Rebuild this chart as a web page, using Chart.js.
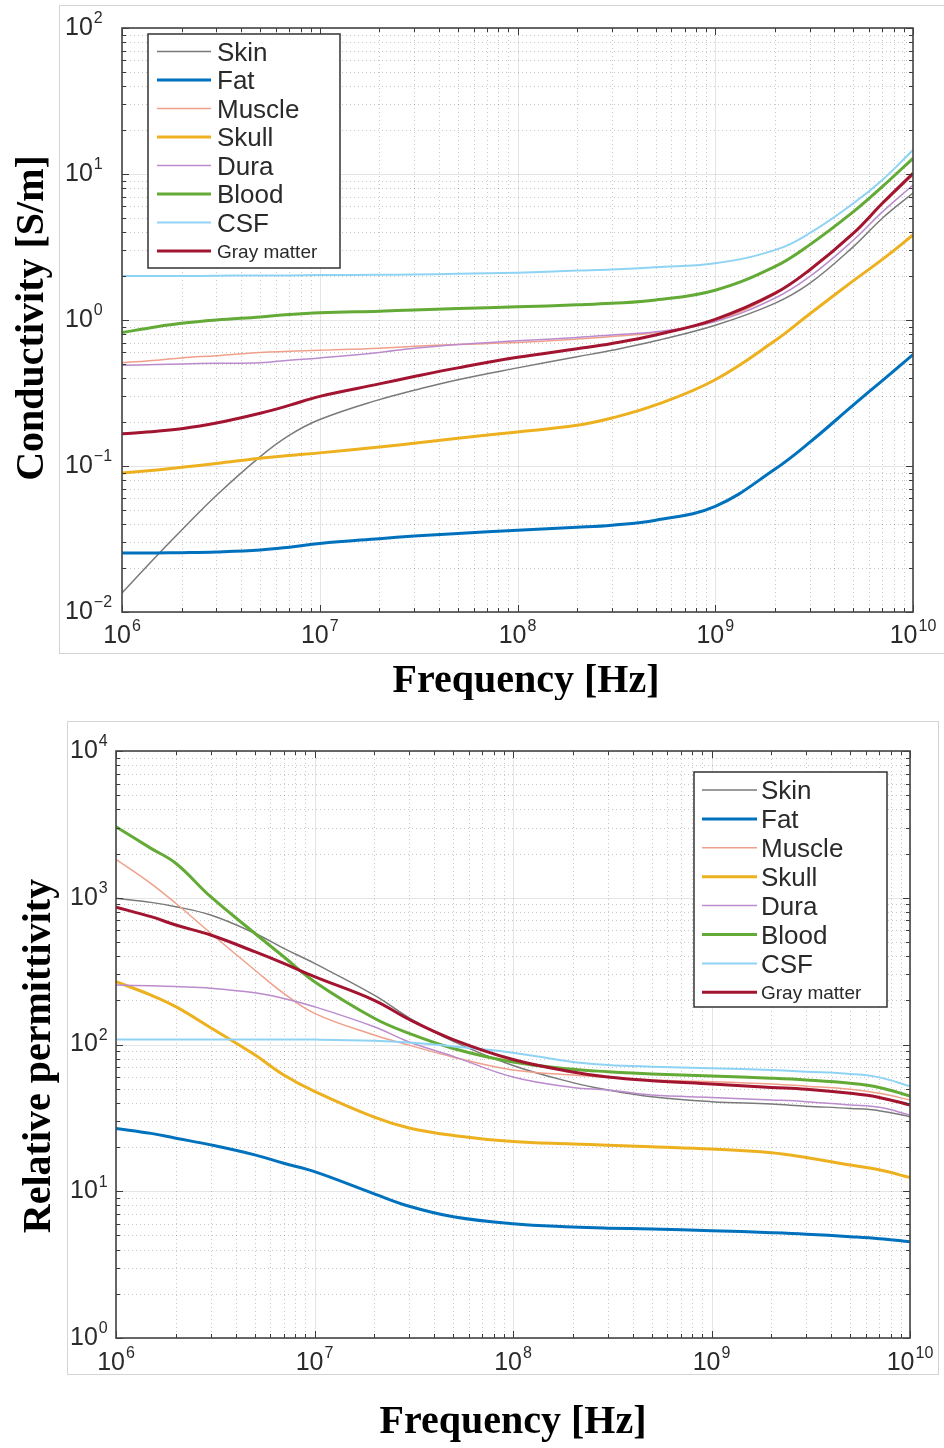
<!DOCTYPE html>
<html>
<head>
<meta charset="utf-8">
<script src="https://cdn.jsdelivr.net/npm/chart.js@4.4.0/dist/chart.umd.min.js"></script>
<style>
  body { margin: 0; background: #fff; }
  #wrap { position: relative; width: 944px; height: 1448px; }
  canvas { position: absolute; left: 0; }
  #cond-chart { top: 0; }
  #perm-chart { top: 700px; }
</style>
</head>
<body>
<div id="wrap">
  <canvas id="cond-chart" width="944" height="700"></canvas>
  <canvas id="perm-chart" width="944" height="748"></canvas>
</div>
<script>
var freqs = [1e6, 1.5e6, 2e6, 3e6, 5e6, 7e6, 1e7, 2e7, 3e7, 5e7,
             1e8, 2e8, 3e8, 5e8, 1e9, 2e9, 3e9, 5e9, 7e9, 1e10];

var tissues = ["Skin", "Fat", "Muscle", "Skull", "Dura", "Blood", "CSF", "Gray matter"];

// conductivity [S/m]
var condSkin   = [0.0135, 0.0243, 0.0363, 0.0628, 0.116, 0.162, 0.208, 0.285, 0.33, 0.39, 0.47, 0.56, 0.62, 0.72, 0.92, 1.30, 1.78, 3.18, 4.98, 7.4];
var condFat    = [0.0254, 0.0254, 0.0255, 0.0258, 0.0266, 0.0278, 0.0295, 0.0318, 0.0331, 0.0345, 0.0363, 0.038, 0.0393, 0.0425, 0.053, 0.095, 0.145, 0.262, 0.385, 0.58];
var condMuscle = [0.51, 0.53, 0.55, 0.57, 0.6, 0.61, 0.62, 0.64, 0.66, 0.68, 0.70, 0.74, 0.77, 0.82, 0.98, 1.5, 2.2, 3.9, 6.2, 9.8];
var condSkull  = [0.0895, 0.094, 0.098, 0.104, 0.113, 0.118, 0.123, 0.135, 0.143, 0.155, 0.171, 0.19, 0.213, 0.262, 0.39, 0.72, 1.1, 1.86, 2.6, 3.82];
var condDura   = [0.49, 0.495, 0.5, 0.505, 0.51, 0.53, 0.55, 0.6, 0.64, 0.68, 0.72, 0.76, 0.79, 0.83, 0.975, 1.41, 1.98, 3.53, 5.5, 8.4];
var condBlood  = [0.82, 0.9, 0.95, 1.0, 1.05, 1.09, 1.12, 1.15, 1.17, 1.2, 1.23, 1.27, 1.30, 1.37, 1.60, 2.32, 3.27, 5.52, 8.2, 12.8];
var condCsf    = [2.0, 2.0, 2.0, 2.01, 2.02, 2.02, 2.03, 2.04, 2.05, 2.07, 2.11, 2.18, 2.22, 2.30, 2.45, 3.01, 3.93, 6.3, 9.1, 14.6];
var condGray   = [0.166, 0.173, 0.18, 0.197, 0.23, 0.26, 0.30, 0.365, 0.41, 0.47, 0.555, 0.635, 0.69, 0.79, 1.01, 1.52, 2.20, 3.93, 6.3, 10.1];

// relative permittivity
var permSkin   = [991, 930, 869, 762, 573, 452, 357, 217, 152, 105, 72, 55, 49, 44, 40.8, 39.3, 38, 36.7, 35.4, 32.2];
var permFat    = [26.8, 24.8, 23, 20.7, 17.7, 15.5, 13.6, 9.6, 7.9, 6.7, 6.0, 5.7, 5.6, 5.53, 5.39, 5.22, 5.1, 4.9, 4.75, 4.53];
var permMuscle = [1829, 1250, 917, 573, 322, 223, 163, 116, 99, 82, 67, 62, 59.7, 57.3, 55.8, 53.8, 52, 49.5, 46.5, 41.9];
var permSkull  = [268, 217, 181, 130, 85, 62, 48, 32, 27, 24, 21.8, 21, 20.6, 20.1, 19.4, 18.3, 17.0, 15.1, 14, 12.4];
var permDura   = [254, 251, 248, 242, 225, 206, 181, 132, 104, 83, 60, 51, 49, 45.3, 43.6, 41.9, 40.8, 38.7, 37.3, 33.1];
var permBlood  = [3048, 2170, 1718, 1016, 573, 396, 268, 151, 119, 94, 76, 67.8, 65.3, 63, 61, 58.9, 57.3, 54.4, 51, 44.6];
var permCsf    = [108, 108, 108, 108, 108, 108, 108, 106, 103, 97, 88, 76, 72.5, 70.6, 68.8, 67, 65.3, 63, 59.7, 52];
var permGray   = [861, 743, 652, 557, 429, 357, 290, 200, 148, 108, 79, 65, 60, 56.7, 53.8, 51, 49.5, 46.5, 43.6, 38.7];

// tick labels are 10^exp
var freqTickExps = [6, 7, 8, 9, 10];
var condTickExps = [-2, -1, 0, 1, 2];
var permTickExps = [0, 1, 2, 3, 4];

var colors = ["#7a7a7a", "#0072bd", "#f0a08a", "#edb120", "#bb8bcd", "#63aa36", "#8fd3f4", "#a2142f"];
var widths = [1.5, 3, 1.5, 3, 1.5, 3, 2, 3];
var legendSizes = [26, 26, 26, 26, 26, 26, 26, 19];

function expText(e) {
    return e < 0 ? "\u2212" + (-e) : String(e);
}

function decadeTicks(scale) {
    var lo = Math.round(Math.log10(scale.min));
    var hi = Math.round(Math.log10(scale.max));
    var out = [];
    for (var e = lo; e < hi; e++) {
        for (var k = 1; k < 10; k++) {
            out.push({ v: k * Math.pow(10, e), major: k === 1 });
        }
    }
    out.push({ v: Math.pow(10, hi), major: true });
    return out;
}

var matlabLook = {
    id: "matlabLook",
    beforeDatasetsDraw: function(chart, args, opts) {
        var ctx = chart.ctx, a = chart.chartArea;
        var xs = chart.scales.x, ys = chart.scales.y;
        ctx.save();
        // light panel frame
        var f = opts.frame;
        ctx.strokeStyle = "#d4d4d4";
        ctx.lineWidth = 1;
        ctx.strokeRect(f[0] + 0.5, f[1] + 0.5, f[2] - f[0], f[3] - f[1]);

        // grid
        decadeTicks(xs).forEach(function(t) {
            var px = Math.round(xs.getPixelForValue(t.v)) + 0.5;
            ctx.beginPath();
            ctx.setLineDash(t.major ? [] : [1, 3]);
            ctx.strokeStyle = t.major ? "rgba(0,0,0,0.1)" : "rgba(0,0,0,0.22)";
            ctx.moveTo(px, a.top);
            ctx.lineTo(px, a.bottom);
            ctx.stroke();
        });
        decadeTicks(ys).forEach(function(t) {
            var py = Math.round(ys.getPixelForValue(t.v)) + 0.5;
            ctx.beginPath();
            ctx.setLineDash(t.major ? [] : [1, 3]);
            ctx.strokeStyle = t.major ? "rgba(0,0,0,0.1)" : "rgba(0,0,0,0.22)";
            ctx.moveTo(a.left, py);
            ctx.lineTo(a.right, py);
            ctx.stroke();
        });
        ctx.restore();
    },
    afterDatasetsDraw: function(chart, args, opts) {
        var ctx = chart.ctx, a = chart.chartArea;
        var xs = chart.scales.x, ys = chart.scales.y;
        ctx.save();
        ctx.strokeStyle = "#3a3a3a";
        ctx.lineWidth = 1;
        ctx.setLineDash([]);
        decadeTicks(xs).forEach(function(t) {
            var px = Math.round(xs.getPixelForValue(t.v)) + 0.5;
            var len = t.major ? 7 : 4;
            ctx.beginPath();
            ctx.moveTo(px, a.bottom); ctx.lineTo(px, a.bottom - len);
            ctx.moveTo(px, a.top); ctx.lineTo(px, a.top + len);
            ctx.stroke();
        });
        decadeTicks(ys).forEach(function(t) {
            var py = Math.round(ys.getPixelForValue(t.v)) + 0.5;
            var len = t.major ? 7 : 4;
            ctx.beginPath();
            ctx.moveTo(a.left, py); ctx.lineTo(a.left + len, py);
            ctx.moveTo(a.right, py); ctx.lineTo(a.right - len, py);
            ctx.stroke();
        });
        // axes box
        ctx.strokeStyle = "#444";
        ctx.lineWidth = 1.6;
        ctx.strokeRect(a.left, a.top, a.right - a.left, a.bottom - a.top);
        ctx.restore();
    },
    afterDraw: function(chart, args, opts) {
        var ctx = chart.ctx;
        var xs = chart.scales.x, ys = chart.scales.y;
        ctx.save();
        ctx.fillStyle = "#2a2a2a";
        ctx.textBaseline = "middle";
        ctx.textAlign = "left";
        var baseFont = "25px 'Liberation Sans', Arial, sans-serif";
        var expFont = "16px 'Liberation Sans', Arial, sans-serif";

        // x tick labels
        opts.xExps.forEach(function(e) {
            var px = xs.getPixelForValue(Math.pow(10, e));
            ctx.font = baseFont;
            var w10 = ctx.measureText("10").width;
            ctx.font = expFont;
            var we = ctx.measureText(expText(e)).width;
            var x0 = px - (w10 + 1 + we) / 2;
            ctx.font = baseFont;
            ctx.fillText("10", x0, opts.xLabelY);
            ctx.font = expFont;
            ctx.fillText(expText(e), x0 + w10 + 1, opts.xLabelY - 9);
        });
        // y tick labels
        opts.yExps.forEach(function(e) {
            var py = ys.getPixelForValue(Math.pow(10, e));
            ctx.font = baseFont;
            var w10 = ctx.measureText("10").width;
            ctx.fillText("10", opts.yLabelX, py);
            ctx.font = expFont;
            ctx.fillText(expText(e), opts.yLabelX + w10 + 1, py - 9);
        });

        // legend
        var lg = opts.legend;
        ctx.fillStyle = "#fff";
        ctx.fillRect(lg.box[0], lg.box[1], lg.box[2] - lg.box[0], lg.box[3] - lg.box[1]);
        ctx.strokeStyle = "#333";
        ctx.lineWidth = 1.5;
        ctx.strokeRect(lg.box[0], lg.box[1], lg.box[2] - lg.box[0], lg.box[3] - lg.box[1]);
        chart.data.datasets.forEach(function(ds, i) {
            var ry = lg.firstRow + i * lg.rowGap;
            ctx.beginPath();
            ctx.strokeStyle = ds.borderColor;
            ctx.lineWidth = ds.borderWidth;
            ctx.moveTo(lg.lineX[0], ry);
            ctx.lineTo(lg.lineX[1], ry);
            ctx.stroke();
            ctx.fillStyle = "#2a2a2a";
            ctx.font = legendSizes[i] + "px 'Liberation Sans', Arial, sans-serif";
            ctx.textBaseline = "alphabetic";
            ctx.fillText(ds.label, lg.textX, ry + legendSizes[i] * 0.36);
        });

        // axis titles
        ctx.fillStyle = "#000";
        ctx.font = "bold 40px 'Liberation Serif', 'Times New Roman', serif";
        ctx.textAlign = "center";
        ctx.textBaseline = "alphabetic";
        ctx.fillText(opts.xTitle, opts.xTitlePos[0], opts.xTitlePos[1]);
        ctx.translate(opts.yTitlePos[0], opts.yTitlePos[1]);
        ctx.rotate(-Math.PI / 2);
        ctx.fillText(opts.yTitle, 0, 0);
        ctx.restore();
    }
};

function toPoints(values) {
    return freqs.map(function(f, i) {
        return { x: f, y: values[i] };
    });
}

function buildChart(id, series, yMin, yMax, look) {
    var ctx = document.getElementById(id).getContext("2d");
    var hidden = { display: false, drawTicks: false };
    return new Chart(ctx, {
        type: "line",
        data: {
            datasets: series.map(function(vals, i) {
                return {
                    label: tissues[i],
                    data: toPoints(vals),
                    borderColor: colors[i],
                    borderWidth: widths[i],
                    pointRadius: 0,
                    fill: false,
                    tension: 0.4,
                    order: series.length - i
                };
            })
        },
        options: {
            responsive: false,
            animation: false,
            devicePixelRatio: 1,
            layout: { padding: look.padding },
            plugins: {
                legend: { display: false },
                tooltip: { enabled: false },
                matlabLook: look
            },
            scales: {
                x: {
                    type: "logarithmic", min: 1e6, max: 1e10,
                    grid: hidden, ticks: { display: false }, border: { display: false }
                },
                y: {
                    type: "logarithmic", min: yMin, max: yMax,
                    grid: hidden, ticks: { display: false }, border: { display: false }
                }
            }
        },
        plugins: [matlabLook]
    });
}

buildChart("cond-chart",
    [condSkin, condFat, condMuscle, condSkull, condDura, condBlood, condCsf, condGray],
    1e-2, 1e2, {
        padding: { left: 122, top: 28, right: 31, bottom: 88 },
        frame: [59, 5, 948, 653],
        xExps: freqTickExps, yExps: condTickExps,
        xLabelY: 636, yLabelX: 65,
        legend: { box: [148, 34, 340, 268], lineX: [157, 211], textX: 217, firstRow: 51.5, rowGap: 28.5 },
        xTitle: "Frequency [Hz]", xTitlePos: [526, 692],
        yTitle: "Conductivity [S/m]", yTitlePos: [43, 318]
    });

buildChart("perm-chart",
    [permSkin, permFat, permMuscle, permSkull, permDura, permBlood, permCsf, permGray],
    1e0, 1e4, {
        padding: { left: 116, top: 51, right: 34, bottom: 110 },
        frame: [67, 21, 938, 674],
        xExps: freqTickExps, yExps: permTickExps,
        xLabelY: 663, yLabelX: 70,
        legend: { box: [694, 72, 887, 307], lineX: [702, 757], textX: 761, firstRow: 90, rowGap: 28.9 },
        xTitle: "Frequency [Hz]", xTitlePos: [513, 733],
        yTitle: "Relative permittivity", yTitlePos: [50, 356]
    });
</script>
</body>
</html>
